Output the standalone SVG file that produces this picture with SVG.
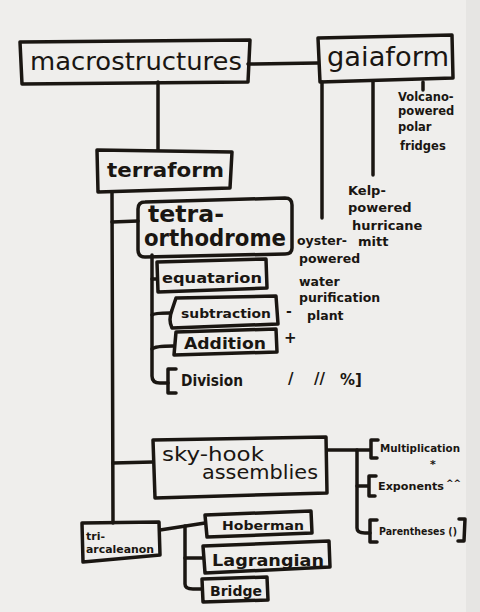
<svg xmlns="http://www.w3.org/2000/svg" width="480" height="612" viewBox="0 0 480 612">
<style>
.b{fill:none;stroke:#1a1612;stroke-width:3.5;stroke-linejoin:round;stroke-linecap:round}
.l{fill:none;stroke:#1a1612;stroke-width:3.5;stroke-linecap:round;stroke-linejoin:round}
text{font-family:"DejaVu Sans","Liberation Sans",sans-serif;fill:#1a1612;font-weight:bold}
.big{font-weight:normal}
.br{font-weight:normal}
</style>
<rect width="480" height="612" fill="#efeeec"/>
<rect x="466" y="0" width="14" height="612" fill="#e6e5e3"/>
<g id="connectors">
<path class="l" d="M248 64 L318 63"/>
<path class="l" d="M158 82 L158 150"/>
<path class="l" d="M322 82 L322 218"/>
<path class="l" d="M373 82 L373 175"/>
<path class="l" d="M423 82 L423 90"/>
<path class="l" d="M112 192 L113 523"/>
<path class="l" d="M112 222 L138 221"/>
<path class="l" d="M152 255 L152 376 Q152 383 160 383 L168 383"/>
<path class="l" d="M152 279 L157 279"/>
<path class="l" d="M152 315 Q154 313 170 313"/>
<path class="l" d="M152 349 Q155 346 173 346"/>
<path class="l" d="M113 463 L153 462"/>
<path class="l" d="M327 450 L357 450 L357 528 Q357 533 365 533 L370 533"/>
<path class="l" d="M357 450 L370 450"/>
<path class="l" d="M357 486 L368 486"/>
<path class="l" d="M160 530 L205 523"/>
<path class="l" d="M185 526 L185 584 Q185 589 193 589 L202 589"/>
<path class="l" d="M185 558 L203 558"/>
</g>
<g id="macrostructures">
<path class="b" d="M20 42 L250 40 L248 82 L22 84 Z"/>
<text x="30" y="70" font-size="25" textLength="212" lengthAdjust="spacingAndGlyphs" class="big">macrostructures</text>
</g>
<g id="gaiaform">
<path class="b" d="M318 38 L452 35 L453 78 L320 82 Z"/>
<text x="327" y="66" font-size="26" textLength="122" lengthAdjust="spacingAndGlyphs" class="big">gaiaform</text>
</g>
<g id="volcano">
<text font-size="11.5"><tspan x="398" y="101">Volcano-</tspan><tspan x="398" y="115">powered</tspan><tspan x="398" y="131">polar</tspan><tspan x="400" y="150">fridges</tspan></text>
</g>
<g id="kelp">
<text font-size="13"><tspan x="348" y="195">Kelp-</tspan><tspan x="348" y="212">powered</tspan><tspan x="352" y="230">hurricane</tspan><tspan x="358" y="246">mitt</tspan></text>
</g>
<g id="terraform">
<path class="b" d="M97 150 L232 152 L230 188 L98 192 Z"/>
<text x="107" y="177" font-size="20" textLength="117" lengthAdjust="spacingAndGlyphs">terraform</text>
</g>
<g id="tetra-orthodrome">
<path class="b" d="M145 202 L285 198 Q292 198 292 205 L292 248 Q292 254 285 254 L145 257 Q138 257 138 250 L138 209 Q138 202 145 202 Z"/>
<text font-size="23"><tspan x="148" y="222" textLength="76" lengthAdjust="spacingAndGlyphs">tetra-</tspan><tspan x="144" y="246" textLength="142" lengthAdjust="spacingAndGlyphs">orthodrome</tspan></text>
</g>
<g id="oyster">
<text font-size="12.5"><tspan x="297" y="245">oyster-</tspan><tspan x="299" y="263">powered</tspan><tspan x="299" y="286">water</tspan><tspan x="299" y="302">purification</tspan><tspan x="307" y="320">plant</tspan></text>
</g>
<g id="equatarion">
<path class="b" d="M157 262 L266 259 L267 288 L158 292 Z"/>
<text x="162" y="283" font-size="14" textLength="100" lengthAdjust="spacingAndGlyphs">equatarion</text>
</g>
<g id="subtraction">
<path class="b" d="M176 298 L276 296 L278 324 L172 328 Q168 320 172 310 Z"/>
<text x="181" y="318" font-size="12.5" textLength="90" lengthAdjust="spacingAndGlyphs">subtraction</text>
<text x="286" y="316" font-size="14">-</text>
</g>
<g id="addition">
<path class="b" d="M176 332 L276 329 L277 352 L174 355 Z"/>
<text x="184" y="349" font-size="15" textLength="82" lengthAdjust="spacingAndGlyphs">Addition</text>
<text x="284" y="343" font-size="15">+</text>
</g>
<g id="division">
<path class="l" d="M176 369 L168 369 L168 393 L176 393"/>
<text x="181" y="386" font-size="15" textLength="62" lengthAdjust="spacingAndGlyphs">Division</text>
<text x="288" y="384" font-size="15">/</text>
<text x="314" y="384" font-size="15">//</text>
<text x="340" y="385" font-size="15">%]</text>
</g>
<g id="sky-hook">
<path class="b" d="M153 440 L326 437 L327 493 L155 498 Z"/>
<text font-size="19" class="big"><tspan x="162" y="461" textLength="102" lengthAdjust="spacingAndGlyphs">sky-hook</tspan><tspan x="202" y="479" textLength="116" lengthAdjust="spacingAndGlyphs">assemblies</tspan></text>
</g>
<g id="multiplication">
<path class="l" d="M378 440 L371 440 L371 458 L377 458"/>
<text x="380" y="452" font-size="11" textLength="80" lengthAdjust="spacingAndGlyphs">Multiplication</text>
<text x="430" y="468" font-size="11">*</text>
</g>
<g id="exponents">
<path class="l" d="M376 476 L369 476 L369 496 L375 496"/>
<text x="378" y="490" font-size="11" textLength="66" lengthAdjust="spacingAndGlyphs">Exponents</text>
<text x="446" y="486" font-size="9">^^</text>
</g>
<g id="parentheses">
<path class="l" d="M377 520 L370 520 L370 542 L377 542"/>
<text x="379" y="535" font-size="11" textLength="78" lengthAdjust="spacingAndGlyphs">Parentheses ()</text>
<path class="l" d="M459 519 L465 519 L464 541 L458 541"/>
</g>
<g id="tri-arcaleanon">
<path class="b" d="M82 523 L159 522 L160 555 L83 562 Z"/>
<text font-size="11"><tspan x="86" y="540">tri-</tspan><tspan x="86" y="553" textLength="68" lengthAdjust="spacingAndGlyphs">arcaleanon</tspan></text>
</g>
<g id="hoberman">
<path class="b" d="M205 515 L311 511 L312 533 L207 537 Z"/>
<text x="222" y="530" font-size="13" textLength="82" lengthAdjust="spacingAndGlyphs">Hoberman</text>
</g>
<g id="lagrangian">
<path class="b" d="M203 546 L329 541 L330 567 L205 573 Z"/>
<text x="212" y="566" font-size="16" textLength="112" lengthAdjust="spacingAndGlyphs">Lagrangian</text>
</g>
<g id="bridge">
<path class="b" d="M202 579 L267 577 L268 600 L203 602 Z"/>
<text x="210" y="596" font-size="14" textLength="52" lengthAdjust="spacingAndGlyphs">Bridge</text>
</g>
</svg>
